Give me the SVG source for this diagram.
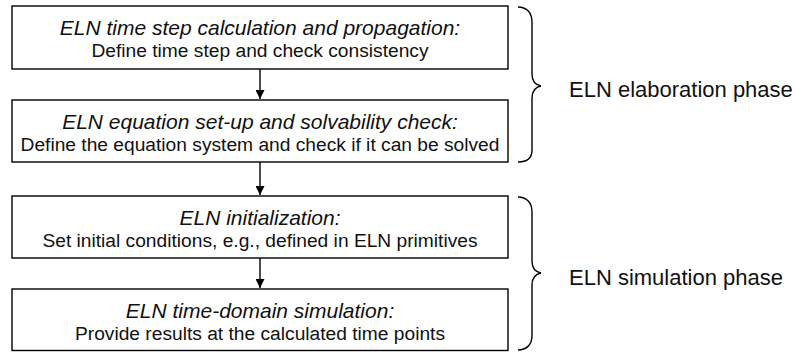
<svg xmlns="http://www.w3.org/2000/svg" width="796" height="352" viewBox="0 0 796 352">
<style>
.box{fill:#fff;stroke:#000;stroke-width:1.4}
.t1{font-family:"Liberation Sans",Arial,sans-serif;font-style:italic;font-size:21px;fill:#111;text-anchor:middle}
.t2{font-family:"Liberation Sans",Arial,sans-serif;font-size:19.2px;fill:#111;text-anchor:middle}
.ph{font-family:"Liberation Sans",Arial,sans-serif;font-size:22px;fill:#111}
.conn{stroke:#000;stroke-width:1.4;fill:none}
.brace{stroke:#000;stroke-width:1.4;fill:none}
</style>
<defs>
<marker id="ah" markerWidth="10" markerHeight="9" refX="9" refY="4.5" orient="auto" markerUnits="userSpaceOnUse">
<path d="M0,0 L9,4.5 L0,9 Z" fill="#000"/>
</marker>
</defs>
<g id="connectors">
<line class="conn" x1="260" y1="69" x2="260" y2="99" marker-end="url(#ah)"/>
<line class="conn" x1="260" y1="162" x2="260" y2="195" marker-end="url(#ah)"/>
<line class="conn" x1="260" y1="258" x2="260" y2="288" marker-end="url(#ah)"/>
</g>
<g id="node1">
<rect class="box" x="12" y="6" width="496" height="63"/>
<text class="t1" x="260" y="35">ELN time step calculation and propagation:</text>
<text class="t2" x="260" y="57">Define time step and check consistency</text>
</g>
<g id="node2">
<rect class="box" x="12" y="100" width="496" height="62"/>
<text class="t1" x="260" y="129">ELN equation set-up and solvability check:</text>
<text class="t2" x="260" y="151">Define the equation system and check if it can be solved</text>
</g>
<g id="node3">
<rect class="box" x="12" y="196" width="496" height="62"/>
<text class="t1" x="260" y="225">ELN initialization:</text>
<text class="t2" x="260" y="247">Set initial conditions, e.g., defined in ELN primitives</text>
</g>
<g id="node4">
<rect class="box" x="12" y="289" width="496" height="61.5"/>
<text class="t1" x="260" y="318">ELN time-domain simulation:</text>
<text class="t2" x="260" y="340">Provide results at the calculated time points</text>
</g>
<g id="phase1">
<path class="brace" d="M518,7 C526,7 532,12 532,22 L532,74 C532,81 536,85 541,86 C536,87 532,91 532,98 L532,150 C532,159 526,162 518,162"/>
<text class="ph" x="569" y="97">ELN elaboration phase</text>
</g>
<g id="phase2">
<path class="brace" d="M518,197 C526,197 532,202 532,212 L532,261 C532,268 536,272 541,273 C536,274 532,278 532,285 L532,336 C532,345 526,350 518,350"/>
<text class="ph" x="569" y="285">ELN simulation phase</text>
</g>
</svg>
